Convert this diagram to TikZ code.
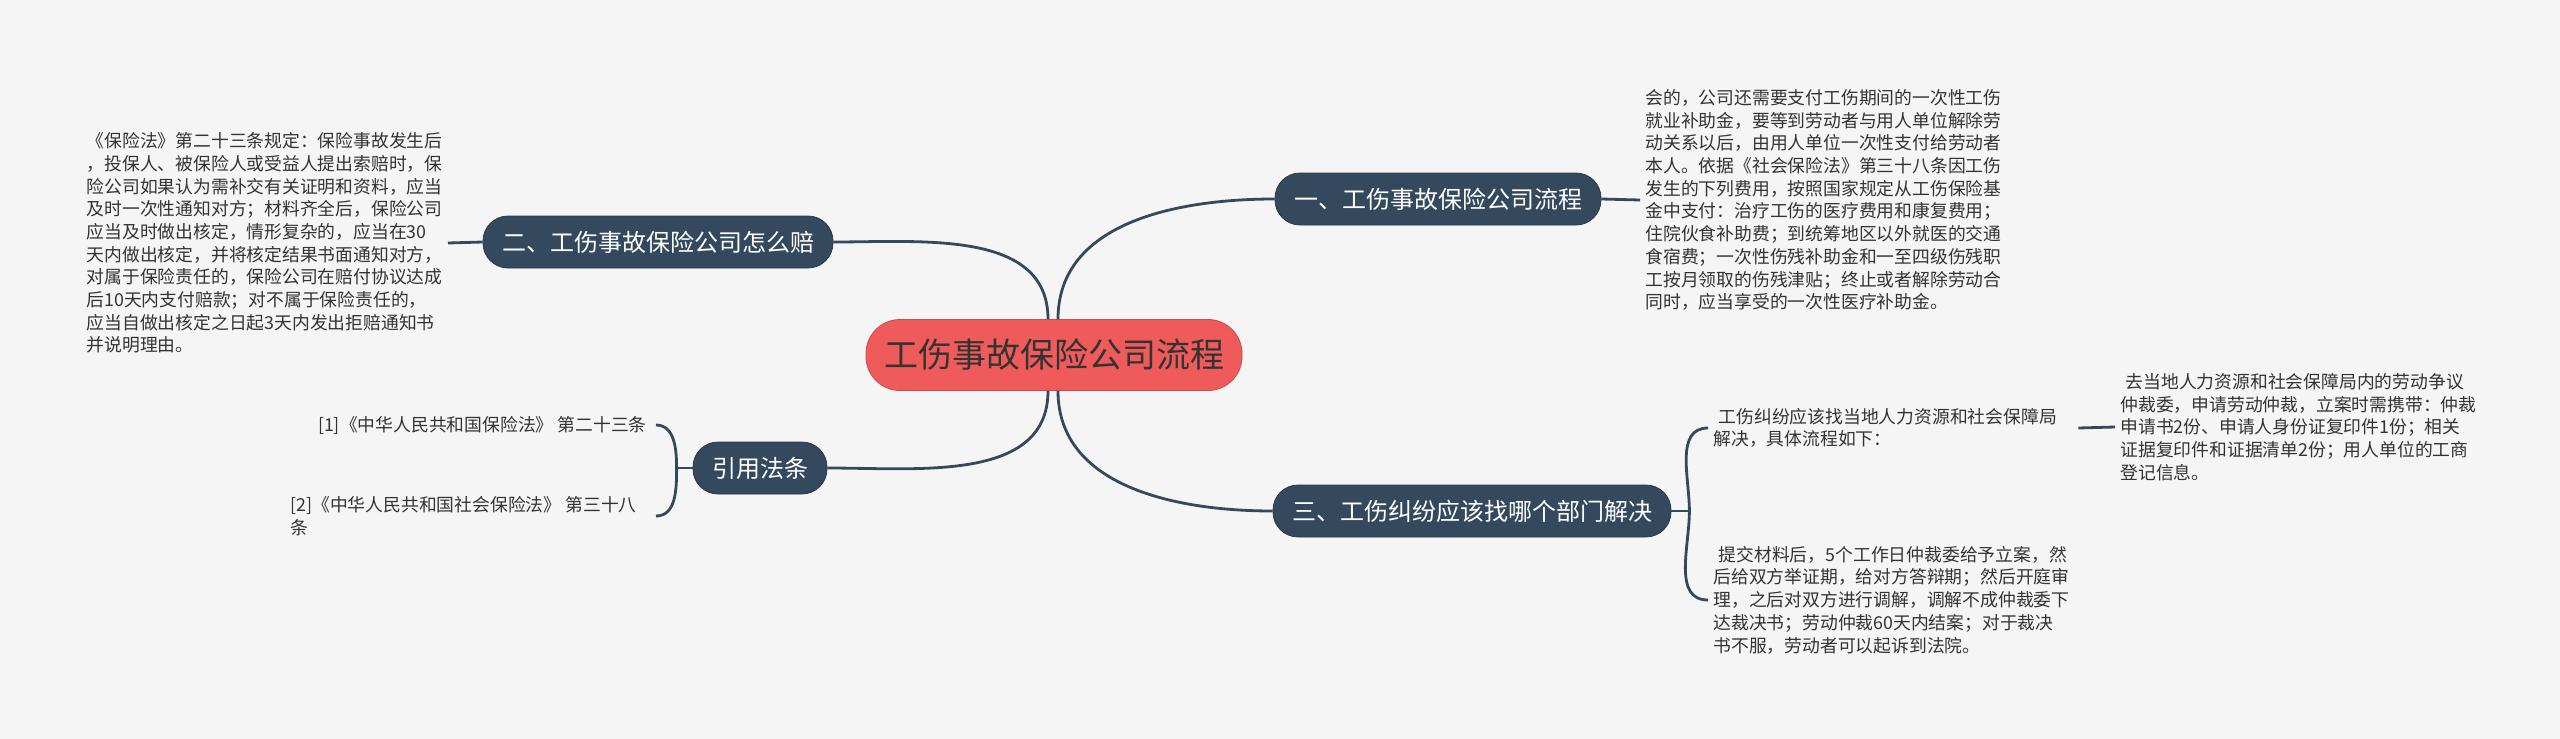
\documentclass[tikz,border=0pt]{standalone}
\usepackage{fontspec}
\setmainfont{Noto Sans CJK SC}
\usetikzlibrary{calc}
\definecolor{bgGray}{RGB}{245,245,245}
\definecolor{rootRed}{RGB}{239,90,90}
\definecolor{topicBlue}{RGB}{52,73,94}
\definecolor{noteGray}{RGB}{51,51,51}

\begin{document}
\begin{tikzpicture}[x=0.5pt, y=0.5pt,
    root/.style={rectangle, draw=rootRed!85!black, fill=rootRed, rounded corners=17pt,
      minimum height=35.5pt, inner xsep=9pt, text=noteGray, font=\fontsize{17}{20}\selectfont},
    topic/.style={rectangle, draw=topicBlue!80!black, fill=topicBlue, rounded corners=12.5pt,
      minimum height=26pt, inner xsep=9.5pt, text=white, font=\fontsize{12}{14}\selectfont},
    note/.style={align=left, inner sep=2.5pt, text=noteGray, font=\fontsize{8.9}{11.35}\selectfont},
    link/.style={draw=topicBlue, line width=1.4pt}
  ]
  \fill[bgGray] (0,0) rectangle (2560,-739);
  \useasboundingbox (0,0) rectangle (2560,-739);

  \node[root] (ctr) at (1054,-355) {工伤事故保险公司流程};
  \node[topic] (b1) at (1438,-199) {一、工伤事故保险公司流程};
  \node[topic] (b2) at (658,-242) {二、工伤事故保险公司怎么赔};
  \node[topic] (b3) at (1472,-511) {三、工伤纠纷应该找哪个部门解决};
  \node[topic] (cite) at (760,-468) {引用法条};

  \node[note, anchor=west] (t1) at (1640,-200) {会的，公司还需要支付工伤期间的一次性工伤\\
    就业补助金，要等到劳动者与用人单位解除劳\\
    动关系以后，由用人单位一次性支付给劳动者\\
    本人。依据《社会保险法》第三十八条因工伤\\
    发生的下列费用，按照国家规定从工伤保险基\\
    金中支付：治疗工伤的医疗费用和康复费用；\\
    住院伙食补助费；到统筹地区以外就医的交通\\
    食宿费；一次性伤残补助金和一至四级伤残职\\
    工按月领取的伤残津贴；终止或者解除劳动合\\
    同时，应当享受的一次性医疗补助金。};
  \node[note, anchor=east] (t2) at (448,-243) {《保险法》第二十三条规定：保险事故发生后\\
    ，投保人、被保险人或受益人提出索赔时，保\\
    险公司如果认为需补交有关证明和资料，应当\\
    及时一次性通知对方；材料齐全后，保险公司\\
    应当及时做出核定，情形复杂的，应当在30\\
    天内做出核定，并将核定结果书面通知对方，\\
    对属于保险责任的，保险公司在赔付协议达成\\
    后10天内支付赔款；对不属于保险责任的，\\
    应当自做出核定之日起3天内发出拒赔通知书\\
    并说明理由。};
  \node[note, anchor=east] (r1) at (652,-425) {[1]《中华人民共和国保险法》 第二十三条};
  \node[note, anchor=east] (r2) at (642,-516) {[2]《中华人民共和国社会保险法》 第三十八\\条};
  \node[note, anchor=west] (t3a) at (1708,-428) {\hspace*{.3em}工伤纠纷应该找当地人力资源和社会保障局\\
    解决，具体流程如下：};
  \node[note, anchor=west] (t3b) at (2115,-427) {\hspace*{.3em}去当地人力资源和社会保障局内的劳动争议\\
    仲裁委，申请劳动仲裁，立案时需携带：仲裁\\
    申请书2份、申请人身份证复印件1份；相关\\
    证据复印件和证据清单2份；用人单位的工商\\
    登记信息。};
  \node[note, anchor=west] (t3c) at (1708,-600) {\hspace*{.3em}提交材料后，5个工作日仲裁委给予立案，然\\
    后给双方举证期，给对方答辩期；然后开庭审\\
    理，之后对双方进行调解，调解不成仲裁委下\\
    达裁决书；劳动仲裁60天内结案；对于裁决\\
    书不服，劳动者可以起诉到法院。};

  % main branches
  \draw[link] ([xshift=2pt]ctr.north) to[out=90, in=180] (b1.west);
  \draw[link] ([xshift=-3pt]ctr.north) to[out=90, in=0] (b2.east);
  \draw[link] ([xshift=-3pt]ctr.south) to[out=-90, in=0] (cite.east);
  \draw[link] ([xshift=2pt]ctr.south) to[out=-90, in=180] (b3.west);

  % leaves
  \draw[link] (b1.east) -- (t1.west);
  \draw[link] (b2.west) -- (t2.east);
  \draw[link] ([xshift=8pt]t3a.east) -- (t3b.west);
  \draw[link] (cite.west) -- ++(-16,0) coordinate (cj);
  \draw[link] (cj) to[out=90, in=0] ([xshift=2pt]r1.east);
  \draw[link] (cj) to[out=-90, in=0] ([xshift=2pt]r1.east |- r2.east);
  \draw[link] (b3.east) -- ++(18,0) coordinate (bj);
  \draw[link] (bj) to[out=90, in=180] (t3a.west);
  \draw[link] (bj) to[out=-90, in=180] (t3c.west);
\end{tikzpicture}
\end{document}
